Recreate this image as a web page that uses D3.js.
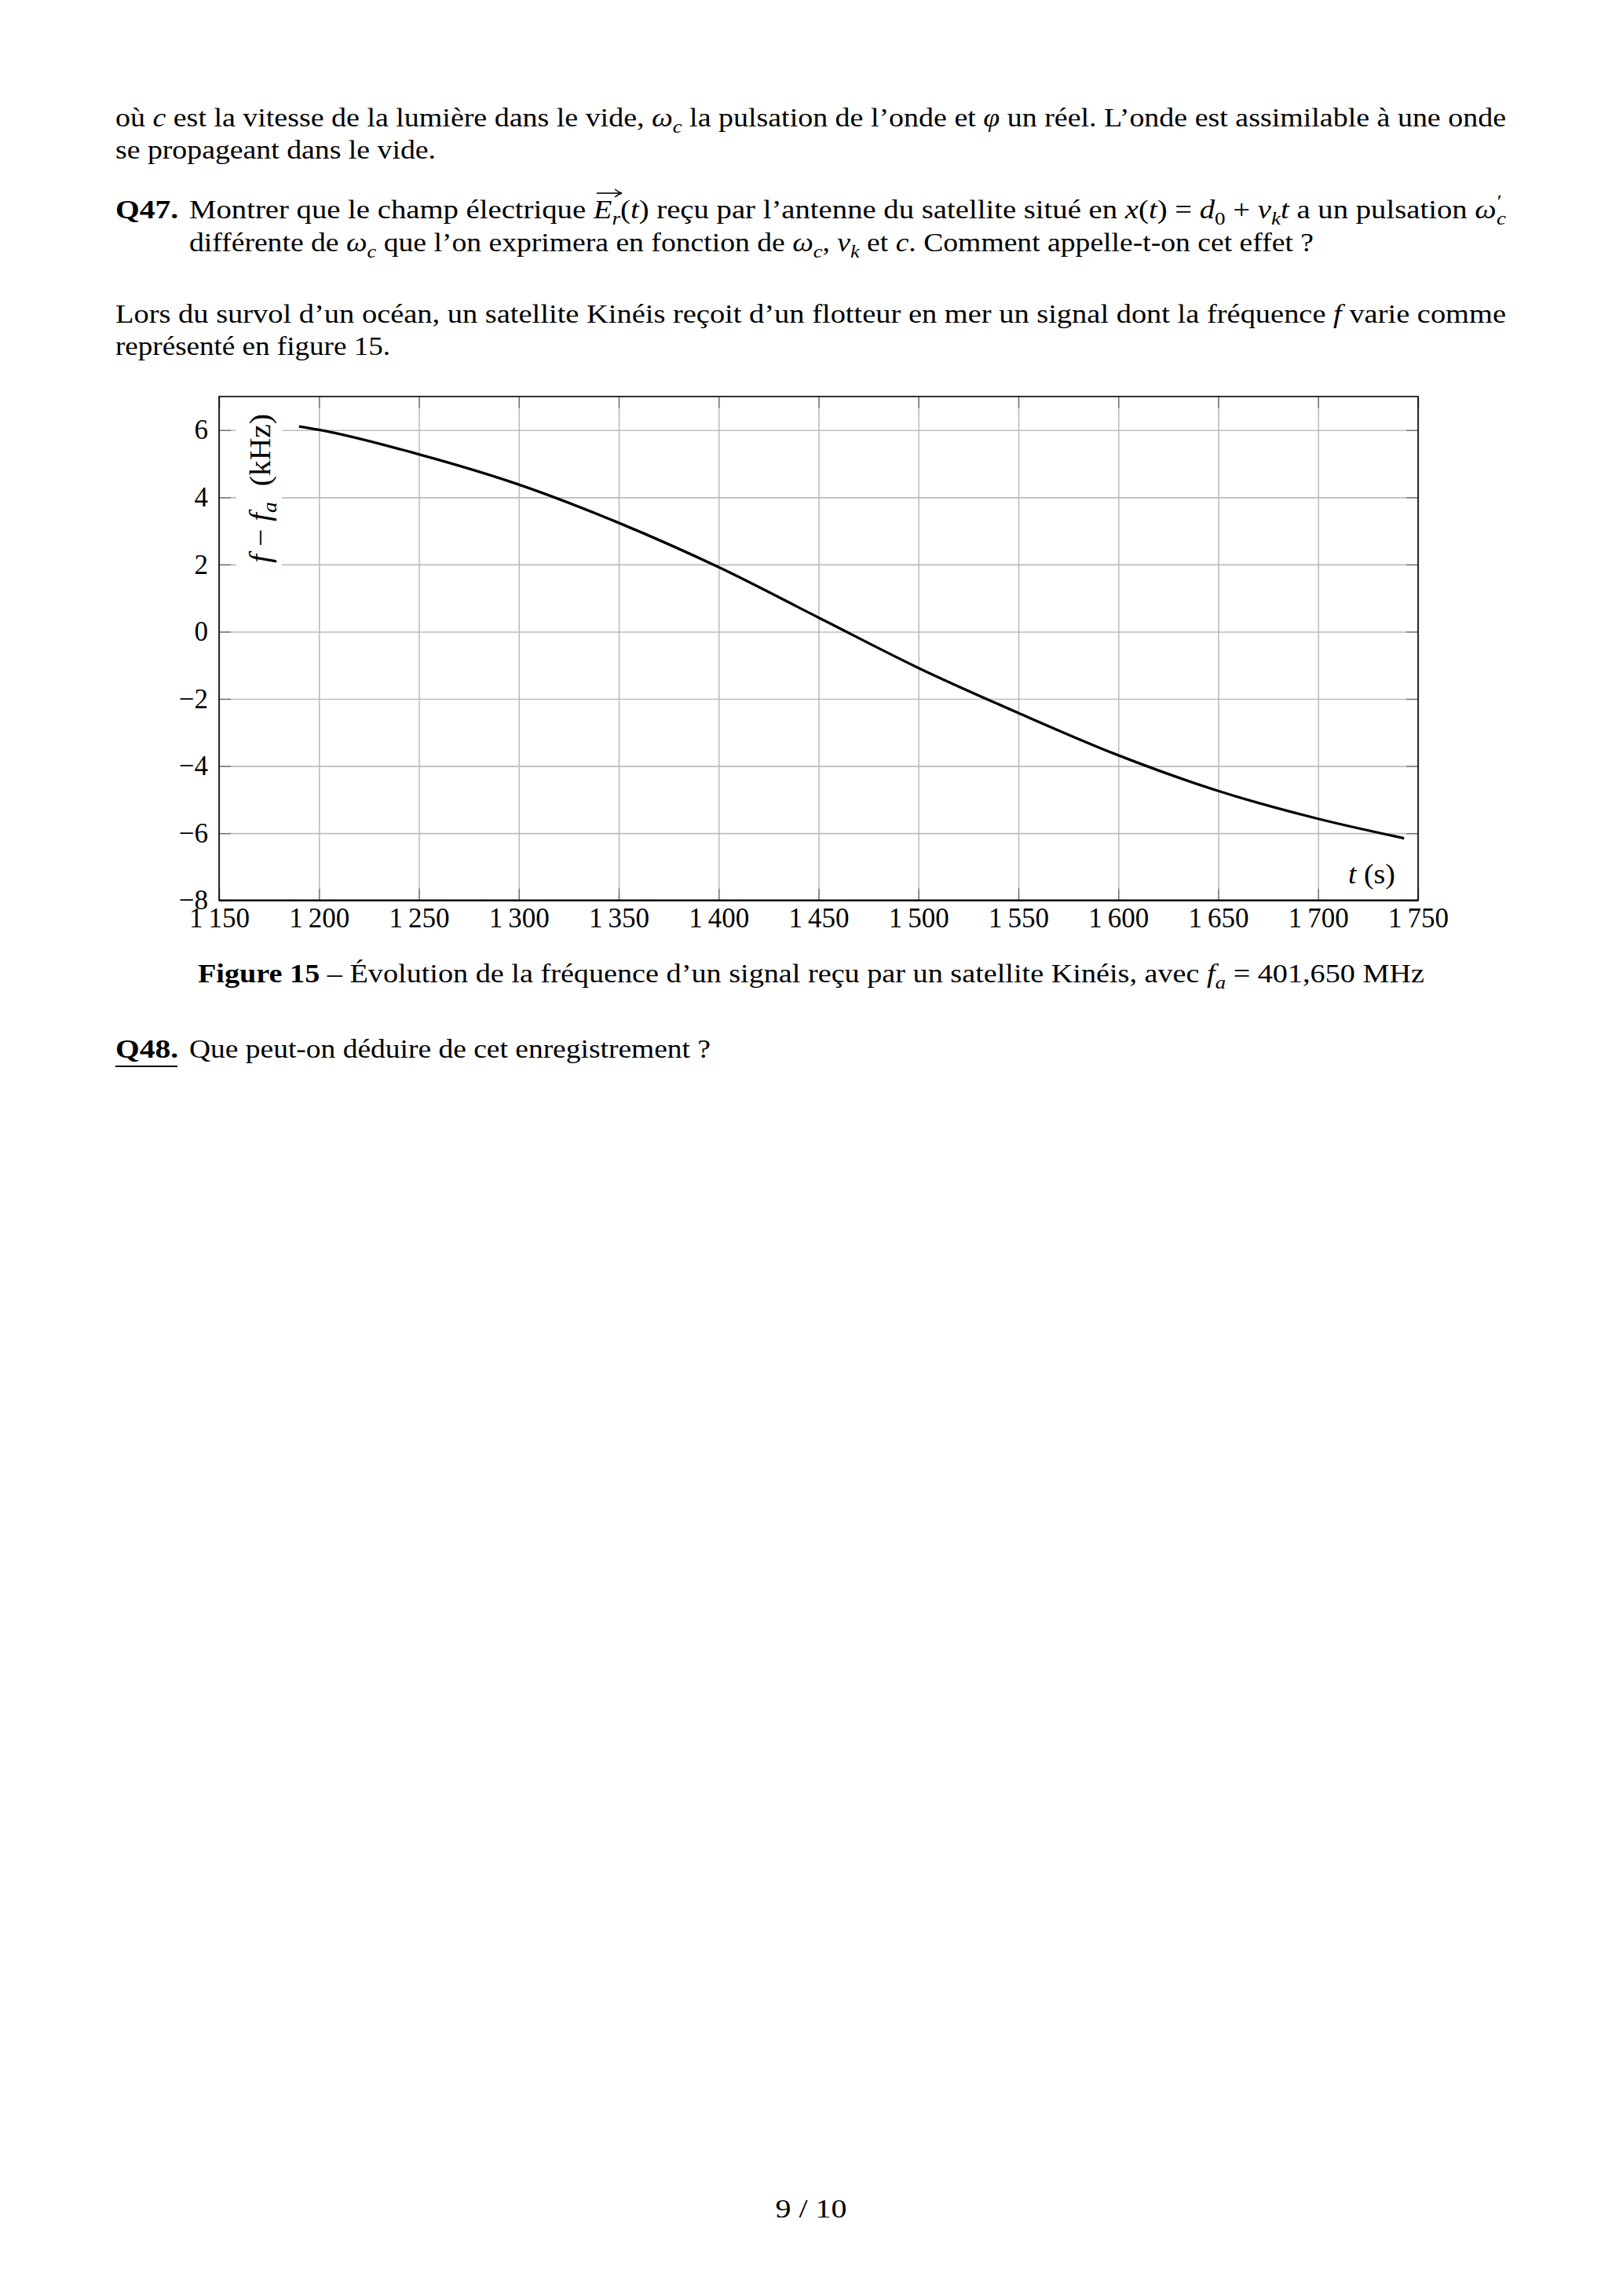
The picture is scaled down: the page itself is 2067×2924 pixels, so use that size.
<!DOCTYPE html>
<html><head><meta charset="utf-8">
<script src="https://cdn.jsdelivr.net/npm/d3@7"></script>
<style>
html,body{margin:0;padding:0;background:#fff;}
svg{display:block;}
text{font-family:"Liberation Serif","DejaVu Serif",serif;fill:#000;white-space:pre;}
</style>
</head><body>
<svg id="page" width="2067" height="2924"></svg>
<script>
// ---- data ----
const times  = [1190, 1200, 1250, 1300, 1350, 1400, 1450, 1500, 1550, 1600, 1650, 1700, 1743];
const deltaF = [6.11, 6.01, 5.28, 4.38, 3.24, 1.92, 0.42, -1.08, -2.42, -3.68, -4.74, -5.57, -6.15];
const xTicks = [1150, 1200, 1250, 1300, 1350, 1400, 1450, 1500, 1550, 1600, 1650, 1700, 1750];
const yTicks = [-8, -6, -4, -2, 0, 2, 4, 6];
const xDomain = [1150, 1750];
const yDomain = [-8, 7];

const svg = d3.select("#page");
svg.append("rect").attr("width", 2067).attr("height", 2924).attr("fill", "#fff");

// ---- text helper ----
function textLine(g, x, y, segs, opts) {
  opts = opts || {};
  const size = opts.size || 34;
  const t = g.append("text").attr("x", x).attr("y", y).attr("font-size", size);
  if (opts.anchor) t.attr("text-anchor", opts.anchor);
  let shift = 0, idx = 0;
  const marks = {};
  segs.forEach(s => {
    if (typeof s === "string") s = {t: s};
    const sp = t.append("tspan").text(s.t);
    if (s.i) sp.attr("font-style", "italic");
    if (s.b) sp.attr("font-weight", "bold");
    const target = s.sub ? 8 : s.sup ? -14 : 0;
    if (target !== shift) { sp.attr("dy", target - shift); shift = target; }
    if (s.sub || s.sup) sp.attr("font-size", size * 0.7);
    if (s.dx) sp.attr("dx", s.dx);
    if (s.mark) marks[s.mark] = idx;
    idx += [...s.t].length;
  });
  if (opts.w) t.attr("textLength", opts.w).attr("lengthAdjust", "spacingAndGlyphs");
  return {t, marks};
}

const page = svg.append("g");

// paragraph 1
textLine(page, 147, 161, ["où ", {t:"c", i:1}, " est la vitesse de la lumière dans le vide, ", {t:"ω", i:1}, {t:"c", i:1, sub:1},
  " la pulsation de l’onde et ", {t:"φ", i:1}, " un réel. L’onde est assimilable à une onde"], {w: 1771});
textLine(page, 147, 202, ["se propageant dans le vide."], {w: 408});

// Q47
textLine(page, 147, 278, [{t:"Q47.", b:1}], {w: 80});
const q47 = textLine(page, 241, 278, ["Montrer que le champ électrique ", {t:"E", i:1, mark:"E"}, {t:"r", i:1, sub:1, mark:"r"}, "(", {t:"t", i:1},
  ") reçu par l’antenne du satellite situé en ", {t:"x", i:1}, "(", {t:"t", i:1}, ") = ", {t:"d", i:1}, {t:"0", sub:1}, " + ",
  {t:"v", i:1}, {t:"k", i:1, sub:1}, {t:"t", i:1}, " a un pulsation ", {t:"ω", i:1}, {t:"′", sup:1, dx:1}, {t:"c", i:1, sub:1, dx:-6}], {w: 1677});
textLine(page, 241, 320, ["différente de ", {t:"ω", i:1}, {t:"c", i:1, sub:1}, " que l’on exprimera en fonction de ", {t:"ω", i:1}, {t:"c", i:1, sub:1},
  ", ", {t:"v", i:1}, {t:"k", i:1, sub:1}, " et ", {t:"c", i:1}, ". Comment appelle-t-on cet effet ?"], {w: 1432});

// arrow over E_r
{
  const n = q47.t.node();
  const e = n.getExtentOfChar(q47.marks.E);
  const r = n.getExtentOfChar(q47.marks.r);
  const x0 = e.x + 4, x1 = Math.max(r.x + r.width, e.x + e.width) + 2, ya = 278 - 32;
  page.append("line").attr("x1", x0).attr("x2", x1 - 2).attr("y1", ya).attr("y2", ya).attr("stroke", "#000").attr("stroke-width", 1.6);
  page.append("path").attr("d", `M${x1 - 9},${ya - 5} Q${x1 - 4},${ya - 1} ${x1},${ya} Q${x1 - 4},${ya + 1} ${x1 - 9},${ya + 5}`)
    .attr("fill", "none").attr("stroke", "#000").attr("stroke-width", 1.6);
}

// paragraph 2
textLine(page, 147, 411, ["Lors du survol d’un océan, un satellite Kinéis reçoit d’un flotteur en mer un signal dont la fréquence ", {t:"f", i:1}, " varie comme"], {w: 1771});
textLine(page, 147, 452, ["représenté en figure 15."], {w: 350});

// ---- chart ----
const L = 279, R = 1806, T = 505, B = 1146.7;
const x = d3.scaleLinear().domain(xDomain).range([L, R]);
const y = d3.scaleLinear().domain(yDomain).range([B, T]);

const chart = svg.append("g");

// grid
chart.append("g").attr("transform", `translate(0,${B})`)
  .call(d3.axisBottom(x).tickValues(xTicks).tickSize(-(B - T)).tickFormat(""))
  .call(g => g.select(".domain").remove())
  .call(g => g.selectAll("line").attr("stroke", "#bdbdbd").attr("stroke-width", 1.6));
chart.append("g").attr("transform", `translate(${L},0)`)
  .call(d3.axisLeft(y).tickValues(yTicks).tickSize(-(R - L)).tickFormat(""))
  .call(g => g.select(".domain").remove())
  .call(g => g.selectAll("line").attr("stroke", "#bdbdbd").attr("stroke-width", 1.6));

// inward tick marks on all four sides
const tickCol = "#6e6e6e";
chart.append("g").attr("transform", `translate(0,${T})`)
  .call(d3.axisTop(x).tickValues(xTicks).tickSize(-15).tickFormat(""))
  .call(g => g.select(".domain").remove())
  .call(g => g.selectAll("line").attr("stroke", tickCol).attr("stroke-width", 1.3));
chart.append("g").attr("transform", `translate(${R},0)`)
  .call(d3.axisRight(y).tickValues(yTicks).tickSize(-15).tickFormat(""))
  .call(g => g.select(".domain").remove())
  .call(g => g.selectAll("line").attr("stroke", tickCol).attr("stroke-width", 1.3));

// y label with white background
chart.append("rect").attr("x", 301).attr("y", 518).attr("width", 58).attr("height", 212).attr("fill", "#fff");
{
  const g = chart.append("g").attr("transform", `translate(344,622) rotate(-90)`);
  textLine(g, 0, 0, [{t:"f", i:1}, " − ", {t:"f", i:1}, {t:"a", i:1, sub:1}, "  (kHz)"], {size: 37, anchor: "middle", w: 190});
}

// x label
textLine(chart, 1717, 1125, [{t:"t", i:1}, " (s)"], {size: 36, w: 60});

// bottom / left axes with labels
const fmtX = d => d3.format(",")(d).replace(",", "\u2009");
chart.append("g").attr("transform", `translate(0,${B})`)
  .call(d3.axisBottom(x).tickValues(xTicks).tickSizeInner(-15).tickSizeOuter(0).tickPadding(9).tickFormat(fmtX))
  .call(g => g.select(".domain").remove())
  .call(g => g.selectAll("line").attr("stroke", tickCol).attr("stroke-width", 1.3))
  .call(g => g.selectAll("text").attr("font-size", 35).attr("font-family", "Liberation Serif").attr("fill", "#000"));
chart.append("g").attr("transform", `translate(${L},0)`)
  .call(d3.axisLeft(y).tickValues(yTicks).tickSizeInner(-15).tickSizeOuter(0).tickPadding(14))
  .call(g => g.select(".domain").remove())
  .call(g => g.selectAll("line").attr("stroke", tickCol).attr("stroke-width", 1.3))
  .call(g => g.selectAll("text").attr("font-size", 35).attr("font-family", "Liberation Serif").attr("fill", "#000"));

// frame
chart.append("rect").attr("x", L).attr("y", T).attr("width", R - L).attr("height", B - T)
  .attr("fill", "none").attr("stroke", "#000").attr("stroke-width", 1.6);
chart.append("line").attr("x1", L).attr("x2", R).attr("y1", B).attr("y2", B).attr("stroke", "#000").attr("stroke-width", 2.2);

// curve
const pts = times.map((t, i) => [t, deltaF[i]]);
chart.append("path").datum(pts)
  .attr("d", d3.line().x(d => x(d[0])).y(d => y(d[1])).curve(d3.curveMonotoneX))
  .attr("fill", "none").attr("stroke", "#000").attr("stroke-width", 3.3).attr("stroke-linejoin", "round");

// caption
textLine(page, 252, 1251, [{t:"Figure 15", b:1}, " – Évolution de la fréquence d’un signal reçu par un satellite Kinéis, avec ", {t:"f", i:1}, {t:"a", i:1, sub:1}, " = 401,650 MHz"], {w: 1562});

// Q48
textLine(page, 147, 1347, [{t:"Q48.", b:1}], {w: 80});
page.append("line").attr("x1", 147).attr("x2", 226).attr("y1", 1358).attr("y2", 1358).attr("stroke", "#000").attr("stroke-width", 2.2);
textLine(page, 241, 1347, ["Que peut-on déduire de cet enregistrement ?"], {w: 664});

// page number
textLine(page, 1033, 2824, ["9 / 10"], {anchor: "middle", w: 91});
</script>
</body></html>
